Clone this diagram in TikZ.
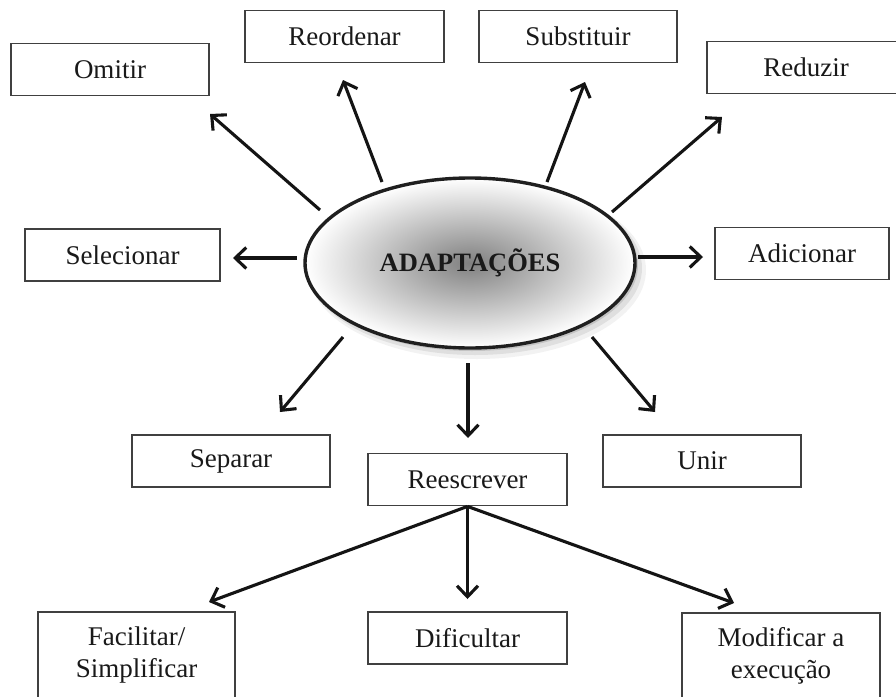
\documentclass[tikz,border=0pt]{standalone}
\usepackage{fontspec}
\setmainfont{Liberation Serif}
\usetikzlibrary{arrows.meta,shapes.geometric}
\begin{document}
\begin{tikzpicture}[x=1pt,y=-1pt,
  box/.style={draw=black!75,line width=1.8pt,minimum width=198pt,minimum height=52pt,
    inner sep=0pt,font=\fontsize{27}{32}\selectfont,text=black!90,align=center},
  arr/.style={line width=3.1pt,draw=black!92,
    -{Straight Barb[length=11pt,width=21pt,line width=3.1pt]}}]
\useasboundingbox (0,0) rectangle (896,696);
\clip (0,0) rectangle (896,696);
\fill[white] (0,0) rectangle (896,696);
% shadow of ellipse
\fill[black,opacity=.05] (477,270) ellipse (169pt and 89pt);
\fill[black,opacity=.08] (475,268) ellipse (167pt and 87pt);
\fill[black,opacity=.12] (472,265) ellipse (166pt and 86pt);
\node[ellipse,draw=black!88,line width=3.4pt,inner color={rgb,255:red,128;green,128;blue,128},
  outer color=white,minimum width=330pt,minimum height=170pt,
  font=\fontsize{26.5}{30}\selectfont\bfseries,text=black!90] (ell) at (470,263) {ADAPTAÇÕES};
% boxes
\node[box] (om) at (110,69.5) {Omitir};
\node[box,minimum width=199pt] (ro) at (344.5,36.5) {Reordenar};
\node[box] (su) at (578,36.5) {Substituir};
\node[box] (rd) at (806,67.5) {Reduzir};
\node[box,minimum width=195pt] (se) at (122.5,255) {Selecionar};
\node[box,minimum width=174pt] (ad) at (802,253.5) {Adicionar};
\node[box] (sp) at (231,461) {Separar};
\node[box,minimum width=199pt] (re) at (467.5,479.5) {Reescrever};
\node[box] (un) at (702,461) {Unir};
\node[box,minimum width=197pt,minimum height=86pt] (fa) at (136.5,655) {Facilitar/\\Simplificar};
\node[box,minimum width=199pt] (di) at (467.5,638) {Dificultar};
\node[box,minimum height=86pt] (mo) at (781,656) {Modificar a\\execução};
% arrow endpoints
\coordinate (sOm) at (320,210); \coordinate (tOm) at (210,114);
\coordinate (sRo) at (382,182); \coordinate (tRo) at (343,80);
\coordinate (sSu) at (547,182); \coordinate (tSu) at (585,82);
\coordinate (sRd) at (612,212); \coordinate (tRd) at (722,117);
\coordinate (sSe) at (297,258); \coordinate (tSe) at (233,258);
\coordinate (sAd) at (638,257); \coordinate (tAd) at (703,257);
\coordinate (sSp) at (343,337); \coordinate (tSp) at (280,412);
\coordinate (sRe) at (468,363); \coordinate (tRe) at (468,438);
\coordinate (sUn) at (592,337); \coordinate (tUn) at (655,412);
\coordinate (tFa) at (209,602);
\coordinate (tDi) at (467.5,599);
\coordinate (tMo) at (734,603);
\draw[arr] (sOm) -- (tOm);
\draw[arr] (sRo) -- (tRo);
\draw[arr] (sSu) -- (tSu);
\draw[arr] (sRd) -- (tRd);
\draw[arr] (sSe) -- (tSe);
\draw[arr] (sAd) -- (tAd);
\draw[arr] (sSp) -- (tSp);
\draw[arr] (sRe) -- (tRe);
\draw[arr] (sUn) -- (tUn);
\draw[arr] (re.south) -- (tFa);
\draw[arr] (re.south) -- (tDi);
\draw[arr] (re.south) -- (tMo);
\end{tikzpicture}
\end{document}
